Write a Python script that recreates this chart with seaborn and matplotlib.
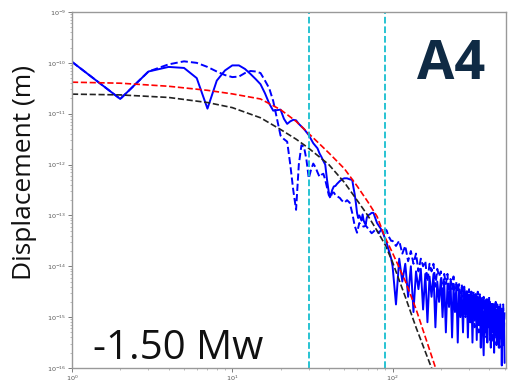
import numpy as np
import pandas as pd
import matplotlib
matplotlib.use("Agg")
import matplotlib.pyplot as plt
import seaborn as sns

# ---------------- data (log10 of displacement in m) ----------------
solid_f = [1, 2, 3, 4, 5, 6, 7, 8, 9, 10, 11, 12, 13, 14, 15, 16, 17, 18, 19, 20,
           21, 22, 23, 24, 25, 26, 27, 28, 29, 30, 31, 32, 33, 34, 35, 36, 37, 38, 39, 40,
           41, 42, 43, 44, 45, 46, 47, 48, 49, 50, 52, 54, 56, 57, 58, 59, 60, 61, 62, 63,
           64, 65, 66, 67, 68, 69, 70, 72, 74, 76, 78, 80, 82, 84, 86, 88, 90, 92, 94, 96, 98,
           100, 105, 110, 115, 120, 125, 130, 135, 140, 145, 150, 155, 160, 165, 170, 175,
           180, 185, 190, 195, 200, 205, 210, 215, 220, 225, 230, 235, 240, 245, 250, 255,
           260, 265, 270, 275, 280, 285, 290, 295, 300, 305, 310, 315, 320, 325, 330, 335,
           340, 345, 350, 355, 360, 365, 370, 375, 380, 385, 390, 395, 400, 405, 410, 415,
           420, 425, 430, 435, 440, 445, 450, 455, 460, 465, 470, 475, 480, 485, 490, 495, 500]
solid_log = [-9.98, -10.71, -10.17, -10.08, -10.10, -10.30, -10.90, -10.35, -10.15, -10.05,
             -10.05, -10.12, -10.22, -10.32, -10.42, -10.60, -10.80, -10.94, -10.93, -10.92,
             -11.10, -11.20, -11.15, -11.12, -11.13, -11.20, -11.25, -11.30, -11.36, -11.42,
             -11.50, -11.58, -11.63, -11.68, -11.78, -11.85, -11.93, -12.00, -12.30, -12.55,
             -12.62, -12.50, -12.43, -12.42, -12.38, -12.35, -12.32, -12.30, -12.28, -12.27,
             -12.27, -12.29, -12.30, -12.45, -12.58, -12.75, -12.95, -13.05, -13.00, -13.05,
             -13.10, -12.98, -13.10, -13.15, -13.18, -13.05, -13.00, -12.98, -12.95, -12.95,
             -13.05, -13.15, -13.20, -13.25, -13.30, -13.38, -13.47, -13.55, -13.65, -13.75, -13.85,
             -14.00, -14.75, -13.85, -14.30, -13.95, -14.60, -14.00, -14.90, -14.10, -14.45,
             -14.05, -14.85, -14.15, -15.10, -14.20, -14.60, -14.15, -15.20, -14.30, -14.70,
             -14.25, -15.00, -14.30, -15.30, -14.35, -14.80, -14.30, -15.40, -14.40, -14.90,
             -14.40, -15.50, -14.45, -15.00, -14.50, -15.30, -14.45, -14.95, -14.50, -15.40,
             -14.55, -15.10, -14.50, -15.50, -14.60, -15.00, -14.55, -15.45, -14.60, -15.10,
             -14.60, -15.60, -14.65, -15.20, -15.75, -14.70, -15.30, -14.65, -15.50, -14.75,
             -15.20, -14.70, -15.60, -14.80, -15.30, -14.75, -15.70, -14.80, -15.35, -14.85,
             -15.50, -14.80, -15.60, -14.90, -15.40, -14.85, -15.95, -14.90, -15.50, -14.95, -15.90]

dash_f = [1, 2, 3, 4, 5, 6, 7, 8, 9, 10, 11, 12, 13, 14, 15, 16, 17, 18, 19, 20,
          21, 22, 23, 24, 25, 26, 27, 28, 29, 30, 31, 32, 33, 34, 35, 36, 37, 38, 39, 40,
          41, 42, 43, 44, 45, 46, 47, 48, 50, 52, 54, 56, 58, 60, 62, 64, 66, 68, 70, 72,
          74, 76, 78, 80, 82, 84, 86, 88, 90, 92, 94, 96, 98,
          100, 105, 110, 115, 120, 125, 130, 135, 140, 145, 150, 155, 160, 165, 170, 175,
          180, 185, 190, 195, 200, 205, 210, 215, 220, 225, 230, 235, 240, 245, 250, 255,
          260, 265, 270, 275, 280, 285, 290, 295, 300, 305, 310, 315, 320, 325, 330, 335,
          340, 345, 350, 355, 360, 365, 370, 375, 380, 385, 390, 395, 400, 405, 410, 415,
          420, 425, 430, 435, 440, 445, 450, 455, 460, 465, 470, 475, 480, 485, 490, 495, 500]
dash_log = [-9.98, -10.71, -10.17, -10.03, -9.97, -10.00, -10.08, -10.17, -10.24, -10.28,
            -10.27, -10.20, -10.16, -10.17, -10.20, -10.35, -10.50, -10.75, -11.10, -11.43,
            -11.50, -11.55, -12.00, -12.50, -12.89, -12.00, -11.62, -11.65, -11.90, -12.27,
            -12.10, -11.98, -12.05, -12.15, -12.24, -12.20, -12.18, -12.30, -12.45, -12.60,
            -12.66, -12.55, -12.55, -12.60, -12.62, -12.64, -12.66, -12.70, -12.75, -12.70,
            -12.75, -12.95, -13.20, -13.34, -13.15, -13.20, -13.22, -13.20, -13.25, -13.30,
            -13.35, -13.32, -13.28, -13.30, -13.35, -13.30, -13.28, -13.30, -13.27, -13.30,
            -13.40, -13.45, -13.50,
            -13.50, -13.60, -13.50, -13.75, -13.60, -13.90, -13.70, -13.95, -13.75, -14.10,
            -13.85, -14.00, -13.90, -14.30, -13.95, -14.10, -13.95, -14.40, -14.05, -14.20,
            -14.10, -14.60, -14.15, -14.35, -14.15, -14.70, -14.25, -14.45, -14.20, -14.80,
            -14.30, -14.50, -14.35, -14.90, -14.35, -14.60, -14.40, -15.00, -14.45, -14.70,
            -14.45, -15.10, -14.50, -14.75, -14.50, -15.20, -14.55, -14.80, -14.50, -15.30,
            -14.55, -14.85, -14.60, -15.35, -14.60, -14.90, -14.65, -15.40, -14.65, -15.00,
            -14.60, -15.45, -14.70, -15.00, -14.70, -15.50, -14.75, -15.10, -14.70, -15.55,
            -14.75, -15.10, -14.80, -15.60, -14.75, -15.20, -14.80, -15.60, -14.75, -15.30, -14.85]

red_f = [1, 2, 4, 7, 10, 15, 20, 25, 30, 40, 50, 60, 70, 80, 90, 100, 120, 140, 160, 190]
red_log = [-10.38, -10.40, -10.46, -10.54, -10.61, -10.71, -10.92, -11.15, -11.39, -11.77,
           -12.08, -12.42, -12.73, -13.02, -13.44, -13.74, -14.29, -14.84, -15.39, -16.10]

black_f = [1, 2, 4, 7, 10, 15, 20, 25, 30, 40, 50, 60, 70, 80, 90, 100, 120, 140, 160, 180]
black_log = [-10.615, -10.63, -10.68, -10.78, -10.88, -11.08, -11.31, -11.50, -11.68, -12.00,
             -12.35, -12.70, -13.00, -13.30, -13.58, -13.92, -14.60, -15.20, -15.68, -16.10]

cyan_f = [30, 90]
mag_label = "-1.50 Mw"
station = "A4"

# ---------------- plot ----------------
sns.set_theme(style="ticks")
plt.rcParams["font.family"] = ["DejaVu Sans"]

fig = plt.figure(figsize=(5.10, 3.85), dpi=100)
ax = fig.add_axes([72 / 510, 17 / 385, 434 / 510, 356 / 385])

def df(f, lg):
    return pd.DataFrame({"f": f, "d": 10.0 ** np.asarray(lg)})

sns.lineplot(data=df(solid_f, solid_log), x="f", y="d", ax=ax, color="#0000ff",
             lw=1.4, estimator=None, sort=False)
sns.lineplot(data=df(dash_f, dash_log), x="f", y="d", ax=ax, color="#0000ff",
             lw=1.4, ls="--", estimator=None, sort=False)
sns.lineplot(data=df(red_f, red_log), x="f", y="d", ax=ax, color="red",
             lw=1.2, ls="--", estimator=None, sort=False)
sns.lineplot(data=df(black_f, black_log), x="f", y="d", ax=ax, color="#222222",
             lw=1.2, ls="--", estimator=None, sort=False)
for c in cyan_f:
    ax.axvline(c, color="#17becf", lw=1.3, ls="--")

ax.set_xscale("log")
ax.set_yscale("log")
ax.set_xlim(1, 510)
ax.set_ylim(1e-16, 1e-9)
ax.set_xlabel("")
ax.set_ylabel("")

ax.tick_params(axis="both", which="major", labelsize=4.6, colors="#666666",
               length=3, width=0.6, labelcolor="#555555", pad=1)
ax.tick_params(axis="both", which="minor", length=1.5, width=0.4, colors="#888888")
for s in ax.spines.values():
    s.set_color("#999999")
    s.set_linewidth(1.0)

fig.text(25 / 510, 1 - 172 / 385, "Displacement (m)", rotation=90, ha="center",
         va="center", fontsize=19, family=["Open Sans", "DejaVu Sans"], color="#111111")
ax.text(0.048, 0.025, mag_label, transform=ax.transAxes, fontsize=29,
        family=["Open Sans", "DejaVu Sans"], color="#111111", va="baseline", ha="left")
ax.text(0.795, 0.811, station, transform=ax.transAxes, fontsize=39, fontweight="bold",
        family=["Open Sans", "DejaVu Sans"], color="#0f2a44", va="baseline", ha="left")

fig.savefig("out.png", dpi=100, facecolor="white")
